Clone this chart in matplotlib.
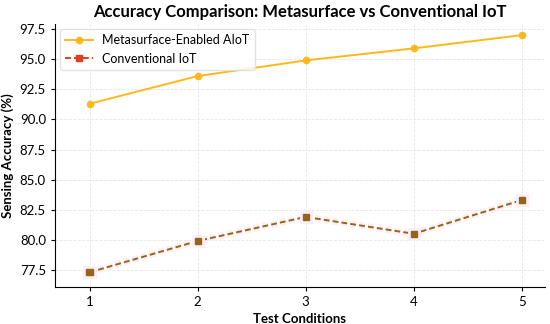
import matplotlib.pyplot as plt
import matplotlib.patheffects as pe
from matplotlib.lines import Line2D

plt.rcParams['font.family'] = ['Lato', 'DejaVu Sans']

conditions = [1, 2, 3, 4, 5]
aiot_acc = [91.3, 93.6, 94.9, 95.9, 97.0]
iot_acc = [77.3, 79.9, 81.9, 80.5, 83.3]

fig, ax = plt.subplots(figsize=(5.5, 3.24), dpi=100)
fig.subplots_adjust(left=0.1, right=0.99, top=0.925, bottom=0.115)

ax.plot(conditions, aiot_acc, color='#ffb81c', marker='o', markersize=4.5, lw=1.4)
ax.plot(conditions, iot_acc, color='#946516', marker='s', markersize=4.5, lw=1.4,
        linestyle='--', dashes=(3, 1.6),
        path_effects=[pe.Stroke(linewidth=5, foreground='#fdeef6'), pe.Normal()])

handles = [
    Line2D([], [], color='#ffb81c', marker='o', markersize=4.5, lw=1.4),
    Line2D([], [], color='#e0401c', marker='s', markersize=4.5, lw=1.4,
           linestyle='--', dashes=(3, 1.6)),
]
ax.legend(handles, ['Metasurface-Enabled AIoT', 'Conventional IoT'],
          loc='upper left', fontsize=9, frameon=True, edgecolor='#dddddd',
          borderaxespad=0.4, handlelength=2.2)

ax.set_title('Accuracy Comparison: Metasurface vs Conventional IoT',
             fontsize=12, fontweight='bold', pad=5)
ax.set_xlabel('Test Conditions', fontsize=9.5, fontweight='bold', labelpad=4)
ax.set_ylabel('Sensing Accuracy (%)', fontsize=9.5, fontweight='bold')

ax.set_xticks(conditions)
ax.set_yticks([77.5, 80.0, 82.5, 85.0, 87.5, 90.0, 92.5, 95.0, 97.5])
ax.set_xlim(0.68, 5.21)
ax.set_ylim(76.1, 97.9)
ax.tick_params(labelsize=9.5, length=3)
ax.grid(True, linestyle='--', color='#e6e6e6', lw=0.6)
for s in ['top', 'right']:
    ax.spines[s].set_visible(False)

fig.savefig('out.png')
